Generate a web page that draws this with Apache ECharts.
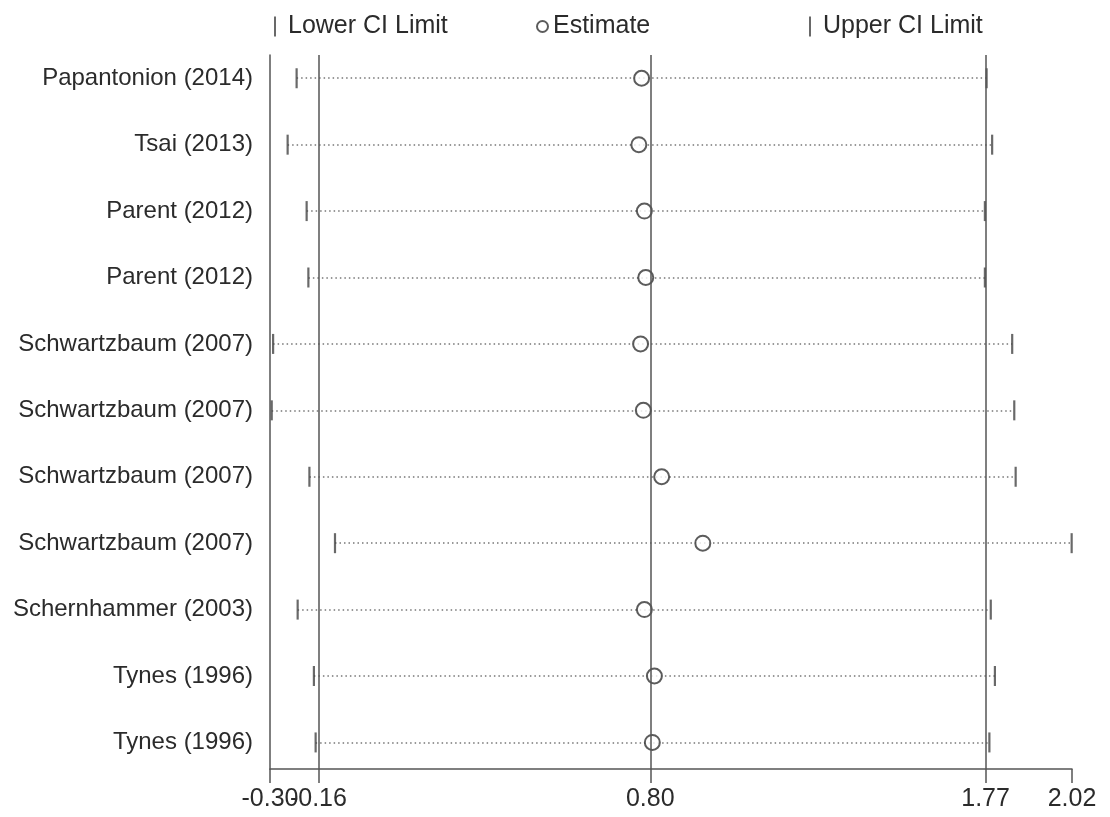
<!DOCTYPE html>
<html>
<head>
<meta charset="utf-8">
<script src="https://cdn.jsdelivr.net/npm/echarts@6/dist/echarts.min.js"></script>
<style>html,body{margin:0;padding:0;background:#fff}#chart{width:1110px;height:817px}</style>
</head>
<body>
<div id="chart"></div>
<script>
// ---- data ----
var studies = ["Papantonion (2014)", "Tsai (2013)", "Parent (2012)", "Parent (2012)",
  "Schwartzbaum (2007)", "Schwartzbaum (2007)", "Schwartzbaum (2007)", "Schwartzbaum (2007)",
  "Schernhammer (2003)", "Tynes (1996)", "Tynes (1996)"];
var lowerCI  = [-0.223, -0.249, -0.194, -0.189, -0.291, -0.295, -0.186, -0.112, -0.220, -0.173, -0.168];
var estimate = [0.775, 0.767, 0.783, 0.787, 0.772, 0.780, 0.833, 0.952, 0.783, 0.812, 0.806];
var upperCI  = [1.773, 1.789, 1.768, 1.768, 1.847, 1.853, 1.857, 2.019, 1.785, 1.797, 1.781];
var refLines = [-0.16, 0.80, 1.77];
var xTicks = [-0.30, -0.16, 0.80, 1.77, 2.02];
var xMin = -0.30, xMax = 2.02;

// ---- build ----
var rows = studies.map(function (s, i) { return i + 1; });
var lowData = rows.map(function (r, i) { return [lowerCI[i], r]; });
var upData = rows.map(function (r, i) { return [upperCI[i], r]; });
var estData = rows.map(function (r, i) { return [estimate[i], r]; });
var lineData = rows.map(function (r, i) { return { coords: [[lowerCI[i], r], [upperCI[i], r]] }; });
// split tick labels across two overlaid axes so the crowded ones are both drawn
var xLabelsA = xTicks.filter(function (v, i) { return i % 2 === 0; });
var xLabelsB = xTicks.filter(function (v, i) { return i % 2 === 1; });

var font = '"Liberation Sans", Arial, sans-serif';
var axisColor = '#555';
var textColor = '#2b2b2b';

function legendCfg(name, left, icon, w, h, pad, itemStyle) {
  return {
    data: [name], left: left, top: 14, padding: 0, icon: icon, itemWidth: w, itemHeight: h,
    selectedMode: false, itemStyle: itemStyle,
    textStyle: { fontFamily: font, fontSize: 25, color: textColor, padding: [0, 0, 0, pad] }
  };
}
function labelCfg(vals) {
  return {
    customValues: vals, margin: 18, fontFamily: font, fontSize: 25, color: textColor,
    showMinLabel: true, showMaxLabel: true, hideOverlap: false,
    formatter: function (v) { return v.toFixed(2); }
  };
}

var chart = echarts.init(document.getElementById('chart'), null, { renderer: 'canvas' });
chart.setOption({
  backgroundColor: '#fff',
  animation: false,
  legend: [
    legendCfg('Lower CI Limit', 274, 'rect', 2, 20, 7, { color: '#444' }),
    legendCfg('Estimate', 536, 'emptyCircle', 11, 11, 0, { color: '#333', borderWidth: 1.5 }),
    legendCfg('Upper CI Limit', 809, 'rect', 2, 20, 7, { color: '#444' })
  ],
  grid: { left: 270, right: 38, top: 55, bottom: 48, containLabel: false },
  xAxis: [{
    type: 'value', min: xMin, max: xMax, position: 'bottom',
    axisLine: { show: true, onZero: false, lineStyle: { color: axisColor, width: 1.5 } },
    axisTick: { show: true, length: 14, customValues: xTicks, lineStyle: { color: axisColor, width: 1.5 } },
    axisLabel: labelCfg(xLabelsA),
    splitLine: { show: false }
  }, {
    type: 'value', min: xMin, max: xMax, position: 'bottom', offset: 0,
    axisLine: { show: false, onZero: false },
    axisTick: { show: false },
    axisLabel: labelCfg(xLabelsB),
    splitLine: { show: false }
  }],
  yAxis: {
    type: 'value', inverse: true, min: 0.65, max: 11.4,
    axisLine: { show: true, onZero: false, lineStyle: { color: axisColor, width: 1.5 } },
    axisTick: { show: false },
    axisLabel: {
      customValues: rows, margin: 17, fontFamily: font, fontSize: 24, color: textColor,
      formatter: function (v) { return studies[Math.round(v) - 1] || ''; }
    },
    splitLine: { show: false }
  },
  series: [
    {
      name: 'CI', type: 'lines', coordinateSystem: 'cartesian2d', z: 1,
      data: lineData, symbol: 'none',
      lineStyle: { color: '#777', width: 1.5, type: [1.5, 3], opacity: 1 },
      markLine: {
        silent: true, symbol: 'none', label: { show: false },
        lineStyle: { color: axisColor, width: 1.5, type: 'solid' },
        data: refLines.map(function (v) { return { xAxis: v }; })
      }
    },
    {
      name: 'Lower CI Limit', type: 'scatter', z: 3, data: lowData,
      symbol: 'rect', symbolSize: [2.2, 20], itemStyle: { color: '#444' }
    },
    {
      name: 'Upper CI Limit', type: 'scatter', z: 3, data: upData,
      symbol: 'rect', symbolSize: [2.2, 20], itemStyle: { color: '#444' }
    },
    {
      name: 'Estimate', type: 'scatter', z: 4, data: estData,
      symbol: 'emptyCircle', symbolSize: 15,
      itemStyle: { color: '#333', borderWidth: 2 }
    }
  ]
});
</script>
</body>
</html>
